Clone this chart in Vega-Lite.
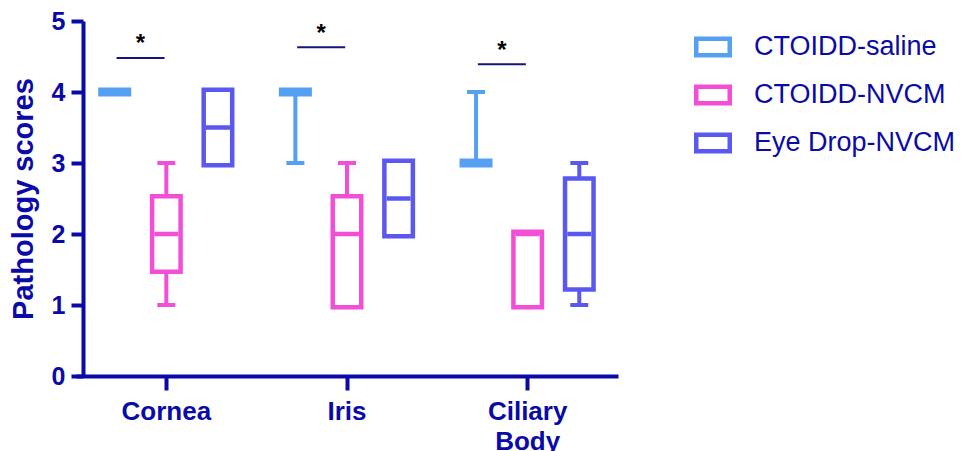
{
  "$schema": "https://vega.github.io/schema/vega-lite/v6.json",
  "width": 532,
  "height": 355,
  "autosize": {"type": "none"},
  "padding": {"left": 83, "top": 21, "right": 354, "bottom": 75},
  "background": "white",
  "config": {
    "view": {"stroke": null},
    "font": "Liberation Sans",
    "axis": {
      "domainColor": "#0a0aa8",
      "domainWidth": 4,
      "tickColor": "#0a0aa8",
      "tickWidth": 4,
      "tickSize": 12,
      "labelColor": "#0a0aa8",
      "labelFont": "Liberation Sans",
      "labelFontWeight": "bold",
      "labelFontSize": 25,
      "titleColor": "#0a0aa8",
      "titleFont": "Liberation Sans",
      "titleFontWeight": "bold",
      "titleFontSize": 29,
      "grid": false
    }
  },
  "datasets": {
    "boxes": [
      {"organ": "Cornea", "group": "CTOIDD-saline", "min": 4, "q1": 4, "median": 4, "q3": 4, "max": 4},
      {"organ": "Cornea", "group": "CTOIDD-NVCM", "min": 1, "q1": 1.5, "median": 2, "q3": 2.5, "max": 3},
      {"organ": "Cornea", "group": "Eye Drop-NVCM", "min": 3, "q1": 3, "median": 3.5, "q3": 4, "max": 4},
      {"organ": "Iris", "group": "CTOIDD-saline", "min": 3, "q1": 4, "median": 4, "q3": 4, "max": 4},
      {"organ": "Iris", "group": "CTOIDD-NVCM", "min": 1, "q1": 1, "median": 2, "q3": 2.5, "max": 3},
      {"organ": "Iris", "group": "Eye Drop-NVCM", "min": 2, "q1": 2, "median": 2.5, "q3": 3, "max": 3},
      {"organ": "Ciliary Body", "group": "CTOIDD-saline", "min": 3, "q1": 3, "median": 3, "q3": 3, "max": 4},
      {"organ": "Ciliary Body", "group": "CTOIDD-NVCM", "min": 1, "q1": 1, "median": 2, "q3": 2, "max": 2},
      {"organ": "Ciliary Body", "group": "Eye Drop-NVCM", "min": 1, "q1": 1.25, "median": 2, "q3": 2.75, "max": 3}
    ],
    "sig": [
      {"organ": "Cornea", "group": "s1", "line": 4.48, "star": 4.73, "label": "*"},
      {"organ": "Iris", "group": "s1", "line": 4.63, "star": 4.88, "label": "*"},
      {"organ": "Ciliary Body", "group": "s1", "line": 4.39, "star": 4.64, "label": "*"}
    ]
  },
  "encoding": {
    "x": {
      "field": "organ",
      "type": "nominal",
      "sort": ["Cornea", "Iris", "Ciliary Body"],
      "scale": {"range": [-7, 535], "paddingInner": 0, "paddingOuter": 0},
      "axis": {
        "title": null,
        "labelAngle": 0,
        "labelPadding": 8,
        "tickSize": 14,
        "labelFontSize": 26,
        "labelLineHeight": 30,
        "labelExpr": "datum.value == 'Ciliary Body' ? ['Ciliary', 'Body'] : datum.value"
      }
    },
    "xOffset": {
      "field": "group",
      "type": "nominal",
      "scale": {
        "domain": ["CTOIDD-saline", "s1", "CTOIDD-NVCM", "s2", "Eye Drop-NVCM"],
        "paddingInner": 0,
        "paddingOuter": 1.11
      }
    }
  },
  "layer": [
    {
      "data": {"name": "boxes"},
      "mark": {"type": "rule", "strokeWidth": 4, "strokeCap": "butt"},
      "encoding": {
        "y": {
          "field": "min",
          "type": "quantitative",
          "scale": {"domain": [0, 5], "nice": false, "zero": true},
          "axis": {"title": "Pathology scores", "values": [0, 1, 2, 3, 4, 5], "format": "d", "labelPadding": 6, "titlePadding": 13}
        },
        "y2": {"field": "q1"},
        "color": {
          "field": "group",
          "type": "nominal",
          "scale": {
            "domain": ["CTOIDD-saline", "CTOIDD-NVCM", "Eye Drop-NVCM"],
            "range": ["#56a0f4", "#f24fd6", "#5a58ef"]
          },
          "legend": {
            "title": null,
            "orient": "none",
            "legendX": 611,
            "legendY": 7,
            "labelFont": "Liberation Sans",
            "labelFontSize": 27,
            "labelColor": "#0a0aa8",
            "labelLimit": 0,
            "labelOffset": 22,
            "rowPadding": 16,
            "symbolType": "M-1,-0.553H1V0.553H-1Z M-0.763,-0.316V0.316H0.763V-0.316Z",
            "symbolSize": 1444,
            "symbolStrokeWidth": 0,
            "symbolOpacity": 1
          }
        }
      }
    },
    {
      "data": {"name": "boxes"},
      "mark": {"type": "rule", "strokeWidth": 4, "strokeCap": "butt"},
      "encoding": {
        "y": {"field": "q3", "type": "quantitative"},
        "y2": {"field": "max"},
        "color": {"field": "group", "type": "nominal", "legend": null}
      }
    },
    {
      "data": {"name": "boxes"},
      "mark": {"type": "tick", "size": 18, "thickness": 4, "opacity": 1},
      "encoding": {
        "y": {"field": "min", "type": "quantitative"},
        "color": {"field": "group", "type": "nominal", "legend": null}
      }
    },
    {
      "data": {"name": "boxes"},
      "mark": {"type": "tick", "size": 18, "thickness": 4, "opacity": 1},
      "encoding": {
        "y": {"field": "max", "type": "quantitative"},
        "color": {"field": "group", "type": "nominal", "legend": null}
      }
    },
    {
      "data": {"name": "boxes"},
      "mark": {"type": "bar", "width": 33, "yOffset": -4.5, "y2Offset": 4.5, "opacity": 1},
      "encoding": {
        "y": {"field": "q3", "type": "quantitative"},
        "y2": {"field": "q1"},
        "color": {"field": "group", "type": "nominal", "legend": null}
      }
    },
    {
      "data": {"name": "boxes"},
      "mark": {"type": "bar", "width": 24, "fill": "white", "strokeWidth": 0, "opacity": 1},
      "encoding": {
        "y": {"field": "q3", "type": "quantitative"},
        "y2": {"field": "q1"}
      }
    },
    {
      "data": {"name": "boxes"},
      "mark": {"type": "tick", "size": 24, "thickness": 4.5, "opacity": 1},
      "encoding": {
        "y": {"field": "median", "type": "quantitative"},
        "color": {"field": "group", "type": "nominal", "legend": null}
      }
    },
    {
      "data": {"name": "sig"},
      "mark": {"type": "tick", "size": 48, "thickness": 2, "color": "#14147a", "opacity": 1},
      "encoding": {
        "y": {"field": "line", "type": "quantitative"}
      }
    },
    {
      "data": {"name": "sig"},
      "mark": {"type": "text", "fontSize": 24, "fontWeight": "bold", "color": "black", "baseline": "middle", "dy": 4},
      "encoding": {
        "y": {"field": "star", "type": "quantitative"},
        "text": {"field": "label"}
      }
    }
  ]
}
